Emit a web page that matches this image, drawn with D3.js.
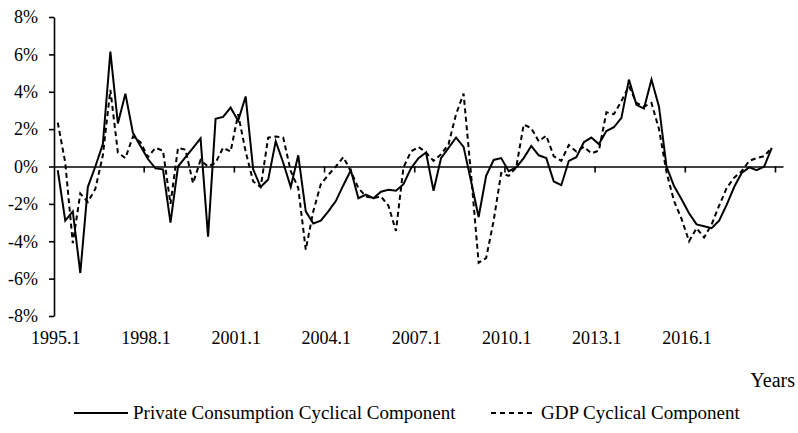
<!DOCTYPE html>
<html>
<head>
<meta charset="utf-8">
<script src="https://d3js.org/d3.v7.min.js"></script>
<style>
  body { margin: 0; background: #fff; }
  svg text { font-family: "Liberation Serif", "Times New Roman", serif; fill: #000; }
</style>
</head>
<body>
<svg id="chart" width="798" height="433"></svg>
<script>
// DATA ========================================================
const startYear = 1995;
const quarterCount = 97;           // 1995.1 .. 2019.1 (last slot has no data)
const xTickLabels = ["1995.1", "1998.1", "2001.1", "2004.1", "2007.1", "2010.1", "2013.1", "2016.1"];
const yTicks = [-8, -6, -4, -2, 0, 2, 4, 6, 8];

// Private consumption cyclical component (%), 1995.1 - 2018.4
const consumption = [
  -0.2, -2.9, -2.4, -5.7, -1.1, 0.0, 1.2, 6.15, 2.3, 3.9, 1.8, 1.1,
  0.4, -0.1, -0.15, -3.0, 0.0, 0.5, 1.0, 1.5, -3.75, 2.55, 2.65, 3.15,
  2.45, 3.75, -0.15, -1.1, -0.7, 1.35, 0.2, -1.1, 0.6, -2.4, -3.05, -2.9,
  -2.4, -1.85, -1.0, -0.2, -1.7, -1.5, -1.7, -1.35, -1.25, -1.3, -0.95, -0.1,
  0.45, 0.75, -1.3, 0.45, 1.0, 1.55, 1.05, -0.8, -2.7, -0.5, 0.35, 0.45,
  -0.25, -0.05, 0.45, 1.1, 0.6, 0.45, -0.8, -1.0, 0.3, 0.5, 1.3, 1.55,
  1.2, 1.9, 2.1, 2.6, 4.65, 3.3, 3.1, 4.65, 3.2, 0.0, -1.05, -1.75,
  -2.5, -3.1, -3.2, -3.3, -2.9, -2.05, -1.1, -0.35, -0.05, -0.2, 0.0, 1.0
];

// GDP cyclical component (%), 1995.1 - 2018.4
const gdp = [
  2.35, 0.2, -4.1, -1.45, -1.9, -1.2, 0.6, 4.1, 0.75, 0.45, 1.6, 1.3,
  0.5, 1.0, 0.85, -2.0, 1.0, 0.9, -0.9, 0.35, 0.0, 0.2, 1.0, 0.8,
  2.8, 0.8, -0.8, -1.1, 1.55, 1.6, 1.55, -0.25, -1.15, -4.45, -2.4, -0.95,
  -0.45, 0.0, 0.5, -0.25, -1.15, -1.6, -1.7, -1.6, -2.1, -3.45, -0.05, 0.8,
  1.05, 0.75, 0.3, 0.65, 1.2, 2.8, 3.9, -0.45, -5.15, -4.9, -2.9, -0.35,
  -0.5, -0.05, 2.25, 2.05, 1.35, 1.65, 0.55, 0.3, 1.15, 0.8, 1.05, 0.7,
  0.85, 2.9, 2.8, 3.5, 4.3, 3.4, 3.2, 3.4, 2.0, -0.3, -1.85, -2.8,
  -4.0, -3.3, -3.8, -3.1, -2.1, -1.15, -0.6, -0.25, 0.3, 0.45, 0.55, 1.0
];

const seriesNames = ["Private Consumption Cyclical Component", "GDP Cyclical Component"];

// quarter labels like "1995.1"
const quarters = d3.range(quarterCount).map(i => `${startYear + Math.floor(i / 4)}.${i % 4 + 1}`);

// SCALES ======================================================
const svg = d3.select("#chart");
const plot = { left: 54, right: 783, top: 17, bottom: 316 };

const x = d3.scaleBand()
  .domain(quarters)
  .range([plot.left, plot.right])
  .padding(0);

const y = d3.scaleLinear()
  .domain([-8, 8])
  .range([plot.bottom, plot.top]);

const xMid = (q) => x(q) + x.bandwidth() / 2;

// AXES ========================================================
const yAxis = svg.append("g")
  .attr("transform", `translate(${plot.left},0)`)
  .call(d3.axisLeft(y).tickValues(yTicks).tickFormat(d => d + "%").tickSize(5).tickPadding(11).tickSizeOuter(0));
yAxis.select(".domain").attr("stroke", "#000").attr("stroke-width", 1.6);
yAxis.selectAll(".tick line").attr("stroke", "#000").attr("stroke-width", 1.6);
yAxis.selectAll(".tick text").attr("font-size", 18).attr("font-family", "Liberation Serif");

// category axis sitting on 0%: tick marks between groups of 12 quarters
const groupStarts = quarters.filter((q, i) => i % 12 === 0);
const xAxis = svg.append("g")
  .attr("transform", `translate(0,${y(0)})`)
  .call(d3.axisBottom(x).tickValues(groupStarts.slice(1)).tickFormat("").tickSize(6).tickSizeOuter(0));
xAxis.selectAll(".tick").attr("transform", d => `translate(${x(d)},0)`);
xAxis.select(".domain").attr("stroke", "#000").attr("stroke-width", 1.6);
xAxis.selectAll(".tick line").attr("stroke", "#000").attr("stroke-width", 1.6);

// tick labels at bottom of plot, roughly centred on their quarter
svg.append("g")
  .selectAll("text")
  .data(xTickLabels)
  .join("text")
  .attr("x", d => xMid(d) - 2)
  .attr("y", 344)
  .attr("text-anchor", "middle")
  .attr("font-size", 18)
  .text(d => d);

svg.append("text")
  .attr("x", 795)
  .attr("y", 387)
  .attr("text-anchor", "end")
  .attr("font-size", 20)
  .text("Years");

// LINES =======================================================
const line = d3.line()
  .x((d, i) => xMid(quarters[i]))
  .y(d => y(d));

svg.append("path")
  .datum(gdp)
  .attr("fill", "none")
  .attr("stroke", "#000")
  .attr("stroke-width", 2)
  .attr("stroke-dasharray", "5,3.5")
  .attr("d", line);

svg.append("path")
  .datum(consumption)
  .attr("fill", "none")
  .attr("stroke", "#000")
  .attr("stroke-width", 2)
  .attr("stroke-linejoin", "miter")
  .attr("d", line);

// LEGEND ======================================================
const legend = svg.append("g").attr("transform", "translate(0,413)");
const legendItems = [
  { name: seriesNames[0], x0: 74, x1: 128, dash: null },
  { name: seriesNames[1], x0: 491, x1: 536, dash: "5,4" }
];
legendItems.forEach(it => {
  legend.append("line")
    .attr("x1", it.x0).attr("x2", it.x1)
    .attr("y1", 0).attr("y2", 0)
    .attr("stroke", "#000")
    .attr("stroke-width", 2)
    .attr("stroke-dasharray", it.dash);
  legend.append("text")
    .attr("x", it.x1 + 5)
    .attr("y", 6)
    .attr("font-size", 19)
    .text(it.name);
});
</script>
</body>
</html>
